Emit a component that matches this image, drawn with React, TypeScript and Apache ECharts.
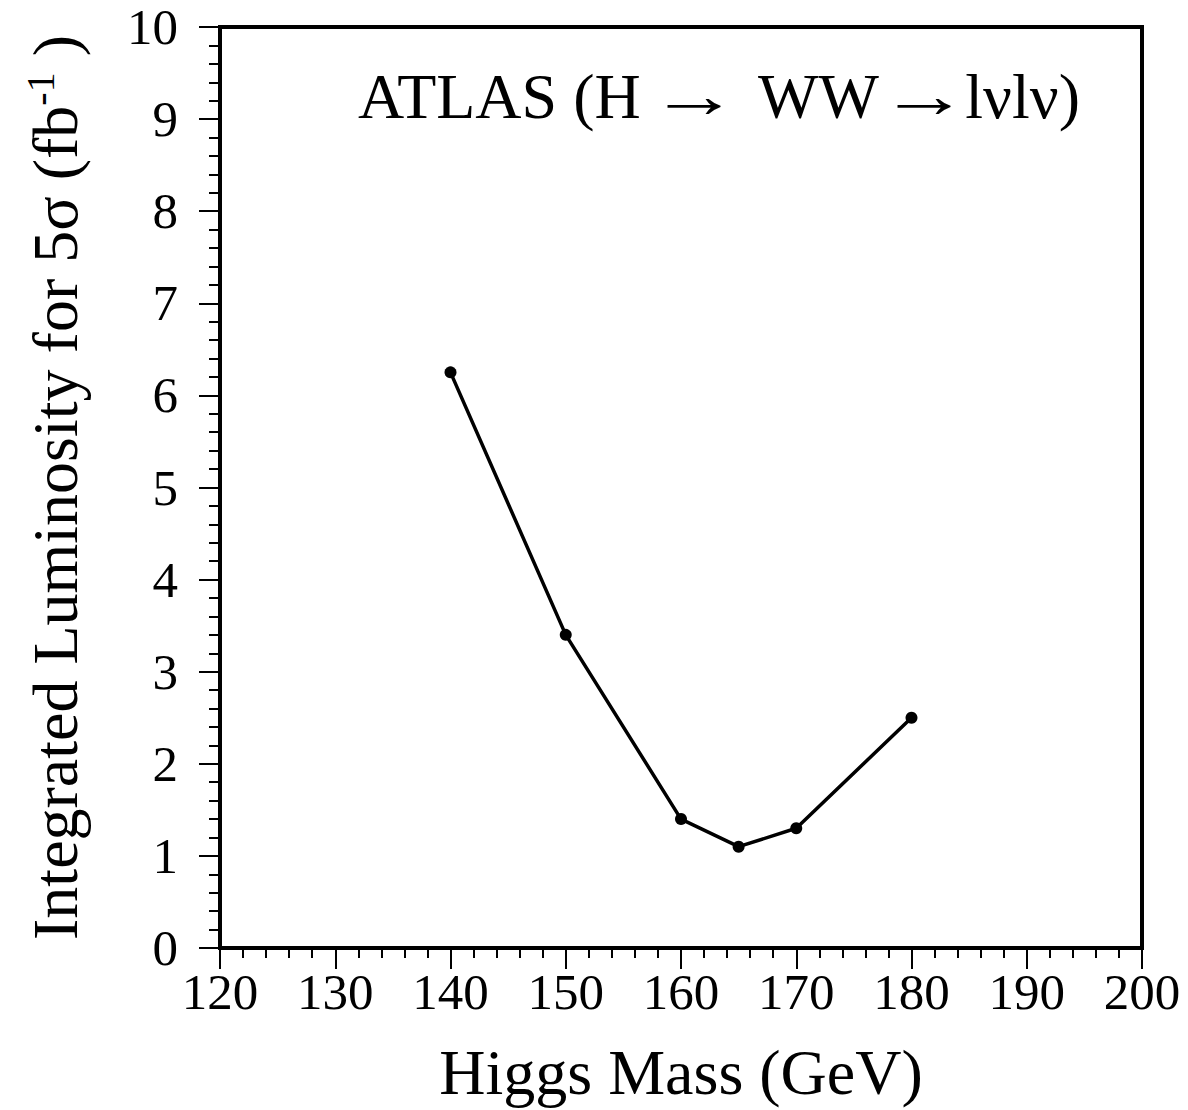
import React, { useEffect, useRef } from "react";
import * as echarts from "echarts";

const masses = [140, 150, 160, 165, 170, 180];
const luminosity = [6.25, 3.4, 1.4, 1.1, 1.3, 2.5];
const xTicks = [120, 130, 140, 150, 160, 170, 180, 190, 200];
const yTicks = [0, 1, 2, 3, 4, 5, 6, 7, 8, 9, 10];
const titleParts = ["ATLAS (H", "→", "WW", "→", "lνlν)"];

const FONT = "'Liberation Serif', 'DejaVu Serif', serif";

export default function App() {
  const ref = useRef<HTMLDivElement>(null);
  useEffect(() => {
    document.body.style.margin = "0";
    const chart = echarts.init(ref.current!, null, { renderer: "svg" });
    const tFont = `64px ${FONT}`;
    chart.setOption({
      animation: false,
      backgroundColor: "#fff",
      textStyle: { fontFamily: FONT, color: "#000" },
      grid: {
        left: 220,
        top: 27,
        width: 922,
        height: 921,
        show: true,
        borderColor: "#000",
        borderWidth: 4,
        backgroundColor: "transparent",
      },
      xAxis: {
        type: "value",
        min: xTicks[0],
        max: xTicks[xTicks.length - 1],
        interval: 10,
        name: "Higgs Mass (GeV)",
        nameLocation: "middle",
        nameGap: 92,
        nameTextStyle: { fontFamily: FONT, fontSize: 64, color: "#000" },
        axisLine: { show: true, lineStyle: { color: "#000", width: 4 } },
        axisTick: { show: true, inside: false, length: 21, lineStyle: { color: "#000", width: 2 } },
        minorTick: { show: true, splitNumber: 5, length: 10, lineStyle: { color: "#000", width: 2 } },
        splitLine: { show: false },
        axisLabel: { fontFamily: FONT, fontSize: 51, color: "#000", margin: 18 },
      },
      yAxis: {
        type: "value",
        min: yTicks[0],
        max: yTicks[yTicks.length - 1],
        interval: 1,
        name: "Integrated Luminosity for 5σ (fb{sup|-1} )",
        nameLocation: "middle",
        nameGap: 130,
        nameRotate: 90,
        nameTextStyle: {
          fontFamily: FONT,
          fontSize: 64,
          color: "#000",
          rich: {
            sup: { fontFamily: FONT, fontSize: 40, color: "#000", verticalAlign: "top", padding: [0, 0, 30, 0] },
          },
        },
        axisLine: { show: true, lineStyle: { color: "#000", width: 4 } },
        axisTick: { show: true, inside: false, length: 21, lineStyle: { color: "#000", width: 2 } },
        minorTick: { show: true, splitNumber: 5, length: 11, lineStyle: { color: "#000", width: 2 } },
        splitLine: { show: false },
        axisLabel: { fontFamily: FONT, fontSize: 51, color: "#000", margin: 42 },
      },
      graphic: [
        {
          type: "text",
          x: 358,
          y: 64,
          style: { text: titleParts[0], font: tFont, fill: "#000", align: "left", verticalAlign: "top" },
        },
        {
          type: "text",
          x: 694,
          y: 64,
          scaleX: 1.4,
          style: { text: titleParts[1], font: tFont, fill: "#000", align: "center", verticalAlign: "top" },
        },
        {
          type: "text",
          x: 758,
          y: 64,
          style: { text: titleParts[2], font: tFont, fill: "#000", align: "left", verticalAlign: "top" },
        },
        {
          type: "text",
          x: 924,
          y: 64,
          scaleX: 1.4,
          style: { text: titleParts[3], font: tFont, fill: "#000", align: "center", verticalAlign: "top" },
        },
        {
          type: "text",
          x: 1080,
          y: 64,
          style: { text: titleParts[4], font: tFont, fill: "#000", align: "right", verticalAlign: "top" },
        },
      ],
      series: [
        {
          type: "line",
          data: masses.map((m, i) => [m, luminosity[i]]),
          symbol: "circle",
          symbolSize: 12,
          itemStyle: { color: "#000" },
          lineStyle: { color: "#000", width: 3.5 },
        },
      ],
    });
    return () => chart.dispose();
  }, []);
  return <div ref={ref} style={{ width: 1188, height: 1110 }} />;
}
